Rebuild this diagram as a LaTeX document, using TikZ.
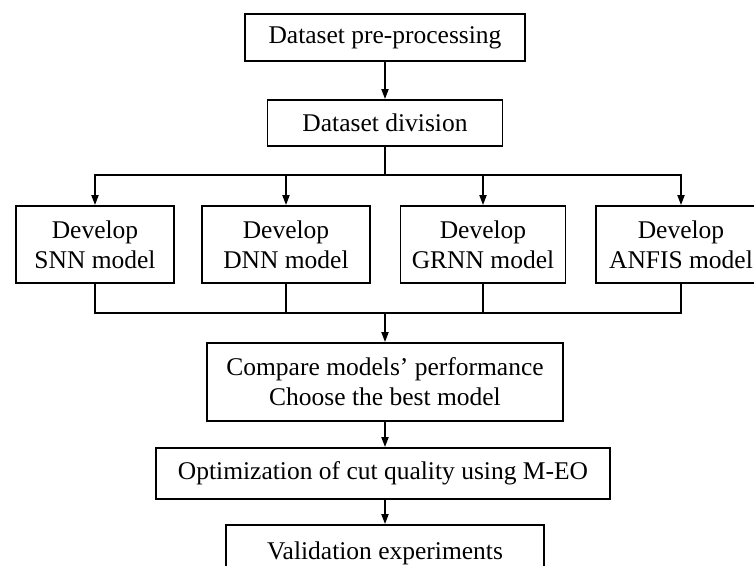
\documentclass[tikz,border=0pt]{standalone}
\usepackage{fontspec}
\setmainfont{Liberation Serif}
\usetikzlibrary{arrows.meta}
\begin{document}
\begin{tikzpicture}[x=1pt,y=-1pt,
  box/.style={draw,line width=1.8pt,rectangle,inner sep=0pt,align=center,
    font=\fontsize{25.5}{30}\selectfont},
  arr/.style={line width=1.8pt,-{Triangle[length=10pt,width=7pt]}},
  ln/.style={line width=1.8pt}]
\useasboundingbox (0,0) rectangle (754,565);
\clip (0,0) rectangle (754,565);
\node[box,minimum width=280pt,minimum height=47pt] (b1) at (385,37.5) {Dataset pre-processing};
\node[box,minimum width=235pt,minimum height=46pt] (b2) at (385,123) {Dataset division};
\node[box,minimum width=158pt,minimum height=77pt] (A) at (95,244.5) {Develop\\SNN model};
\node[box,minimum width=168pt,minimum height=77pt] (B) at (286,244.5) {Develop\\DNN model};
\node[box,minimum width=165pt,minimum height=77pt] (C) at (483,244.5) {Develop\\GRNN model};
\node[box,minimum width=170pt,minimum height=77pt] (D) at (681,244.5) {Develop\\ANFIS model};
\node[box,minimum width=356pt,minimum height=78pt] (cmp) at (385,382) {Compare models’ performance\\Choose the best model};
\node[box,minimum width=454pt,minimum height=51pt] (opt) at (383,473.5) {Optimization of cut quality using M-EO};
\node[box,minimum width=318pt,minimum height=56pt] (val) at (385,553) {Validation experiments};
\coordinate (j1) at (385,175);
\coordinate (j2) at (385,313);
\draw[arr] (b1.south) -- (b2.north);
\draw[ln] (b2.south) -- (j1);
\draw[arr] (j1) -| (A.north);
\draw[arr] (j1) -| (B.north);
\draw[arr] (j1) -| (C.north);
\draw[arr] (j1) -| (D.north);
\draw[ln] (A.south) |- (j2);
\draw[ln] (B.south) |- (j2);
\draw[ln] (C.south) |- (j2);
\draw[ln] (D.south) |- (j2);
\draw[arr] (j2) -- (cmp.north);
\draw[arr] (cmp.south) -- (cmp.south |- opt.north);
\draw[arr] (cmp.south |- opt.south) -- (cmp.south |- val.north);
\end{tikzpicture}
\end{document}
